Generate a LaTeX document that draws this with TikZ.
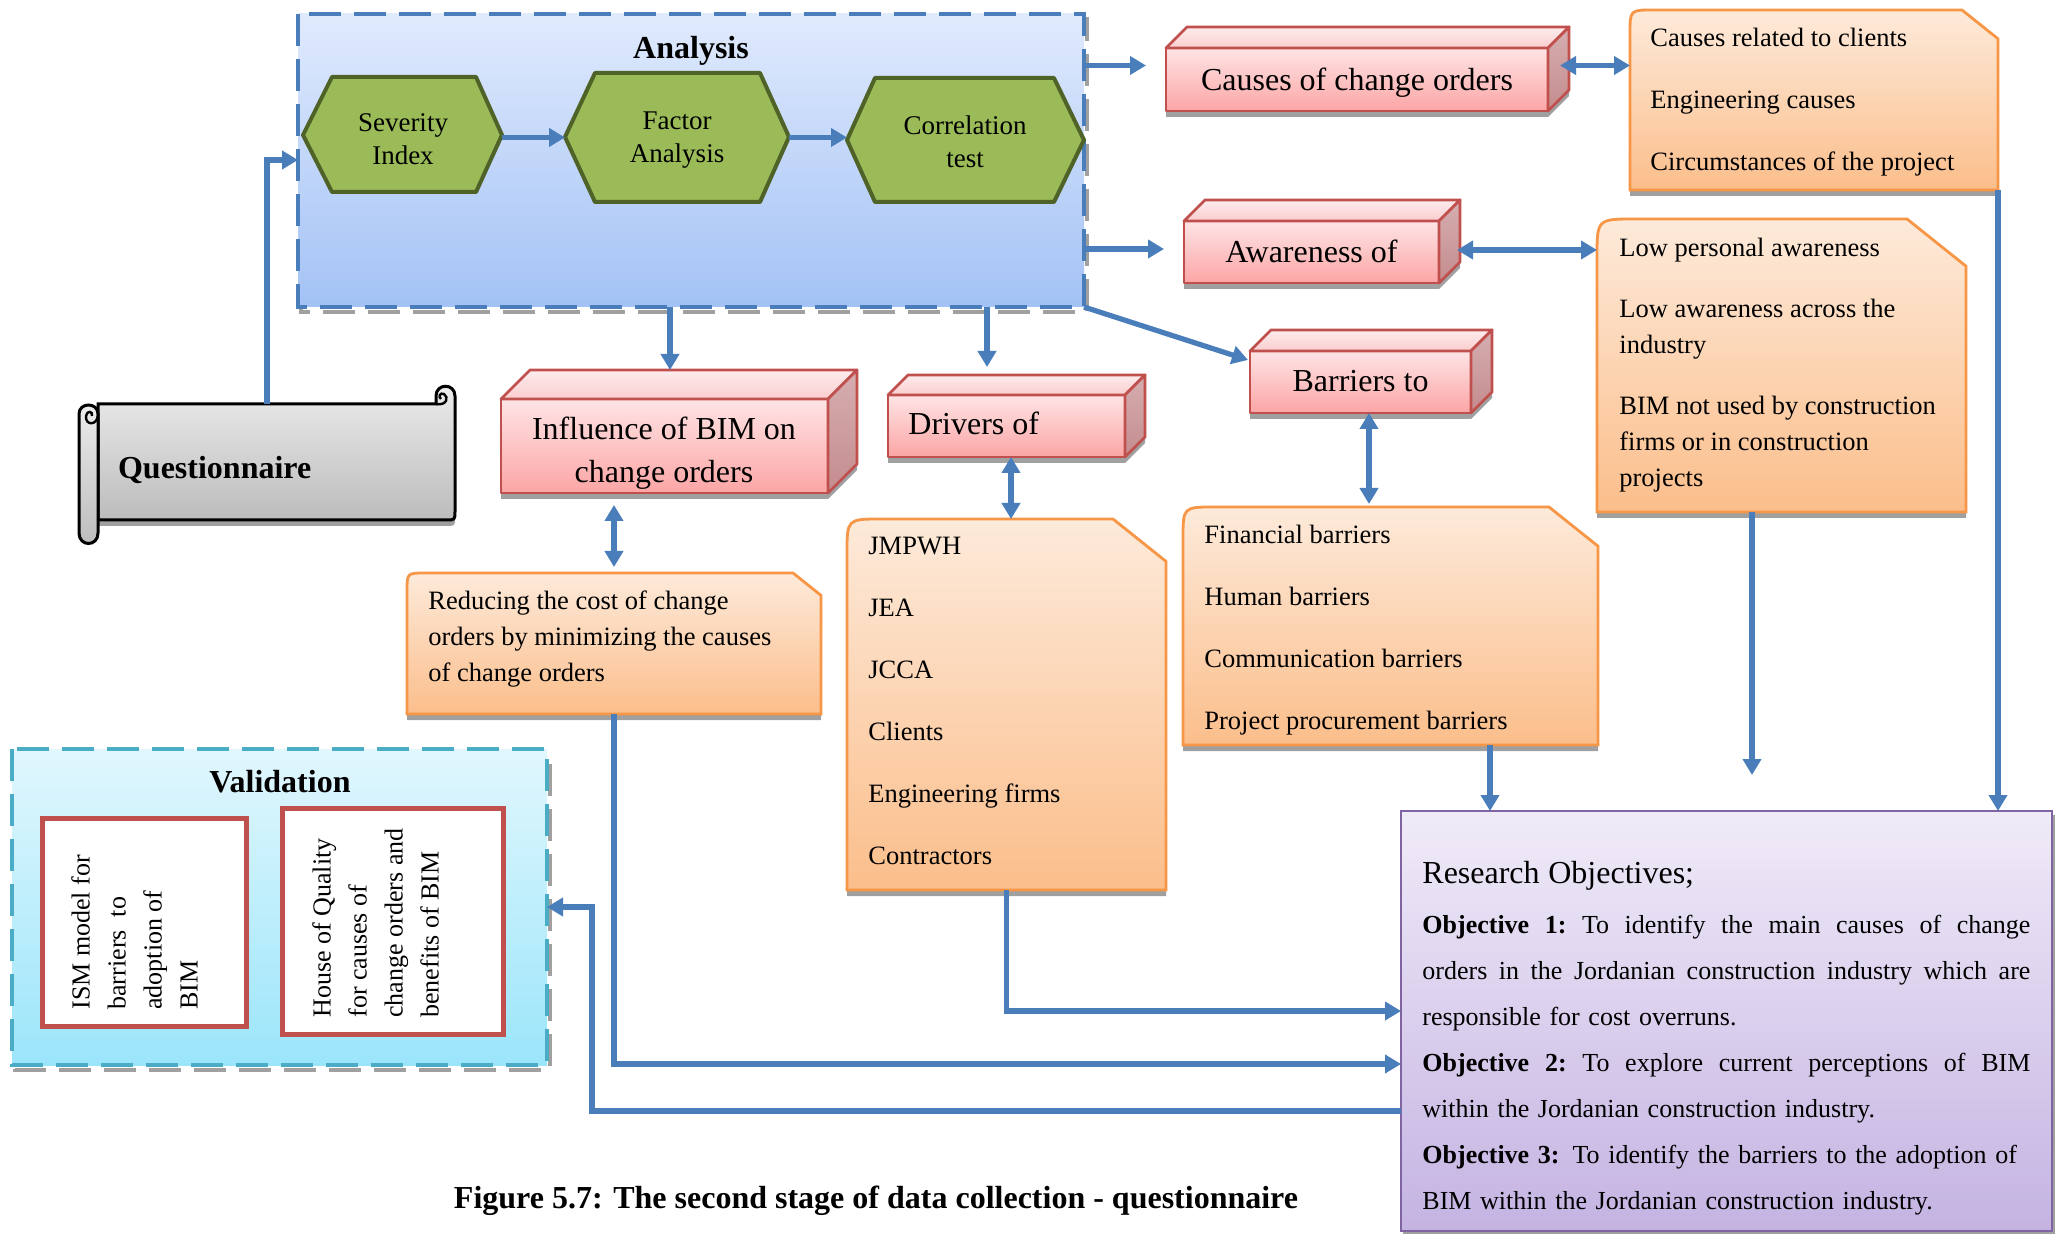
\documentclass[tikz,border=0pt]{standalone}
\usepackage{fontspec}
\setmainfont{Liberation Serif}
\usetikzlibrary{arrows.meta,calc,fit}

\definecolor{arrowblue}{RGB}{74,126,187}
\definecolor{anaA}{RGB}{224,234,253}
\definecolor{anaB}{RGB}{163,194,245}
\definecolor{valA}{RGB}{225,247,253}
\definecolor{valB}{RGB}{155,229,250}
\definecolor{valline}{RGB}{75,172,198}
\definecolor{orA}{RGB}{253,234,218}
\definecolor{orB}{RGB}{251,190,139}
\definecolor{orline}{RGB}{247,150,70}
\definecolor{pkA}{RGB}{254,228,229}
\definecolor{pkB}{RGB}{252,165,165}
\definecolor{pktA}{RGB}{254,236,237}
\definecolor{pktB}{RGB}{250,205,206}
\definecolor{sdA}{RGB}{214,174,176}
\definecolor{sdB}{RGB}{196,140,142}
\definecolor{redline}{RGB}{192,80,77}
\definecolor{hexfill}{RGB}{155,187,89}
\definecolor{hexline}{RGB}{79,98,40}
\definecolor{roA}{RGB}{240,235,248}
\definecolor{roB}{RGB}{196,179,226}
\definecolor{roline}{RGB}{128,100,162}
\definecolor{shadowgray}{RGB}{160,160,160}
\definecolor{qA}{RGB}{236,236,236}
\definecolor{qB}{RGB}{188,188,188}

\newcommand\fslabel{\fontsize{16}{21.5}\selectfont}
\newcommand\fshead{\fontsize{16}{20}\selectfont\bfseries}
\newcommand\fslist{\fontsize{13.25}{18}\selectfont}
\newcommand\fshex{\fontsize{13.5}{16.75}\selectfont}
\newcommand\fsrot{\fontsize{13}{18}\selectfont}
\newcommand\fsobj{\fontsize{13}{23}\selectfont}
\newcommand\fstitle{\fontsize{16}{20}\selectfont}

% one line of the objectives text, spread to the full width
\newcommand\jline[1]{\hbox to 304pt{\spaceskip=3.25pt plus 10pt minus 1pt\xspaceskip=\spaceskip #1}}
% one line of the objectives text, set flush left
\newcommand\rline[1]{\hbox to 304pt{#1\hfil}}

% 3-D block: name, x1, y1, x2, y2 (front face), depth
\newcommand\drawcube[6]{%
  \fill[shadowgray] (#2,#3+6) -- (#2+#6,#3-#6+6) -- (#4+#6,#3-#6+6) -- (#4+#6,#5-#6+6) -- (#4,#5+6) -- (#2,#5+6) -- cycle;
  \shadedraw[cubeline, top color=pkA, bottom color=pkB] (#2,#3) rectangle (#4,#5);
  \shadedraw[cubeline, top color=pktA, bottom color=pktB] (#2,#3) -- (#2+#6,#3-#6) -- (#4+#6,#3-#6) -- (#4,#3) -- cycle;
  \shadedraw[cubeline, top color=sdA, bottom color=sdB] (#4,#3) -- (#4+#6,#3-#6) -- (#4+#6,#5-#6) -- (#4,#5) -- cycle;
  \node[fit={(#2,#3-#6) (#4+#6,#5)}, inner sep=0pt, outer sep=0pt] (#1) {};
  \node[fit={(#2,#3) (#4,#5)}, inner sep=0pt, outer sep=0pt] (#1-f) {};
}

% note box with a snipped top-right corner: name, x1, y1, x2, y2, snip
\newcommand\drawnote[6]{%
  \fill[shadowgray] (#2,#5+6) -- (#2,#3+6+0.65*#6) .. controls (#2,#3+6) .. (#2+0.65*#6,#3+6) -- (#4-#6,#3+6) -- (#4,#3+6+0.8*#6) -- (#4,#5+6) -- cycle;
  \shadedraw[notebox] (#2,#5) -- (#2,#3+0.65*#6) .. controls (#2,#3) .. (#2+0.65*#6,#3) -- (#4-#6,#3) -- (#4,#3+0.8*#6) -- (#4,#5) -- cycle;
  \node[fit={(#2,#3) (#4,#5)}, inner sep=0pt, outer sep=0pt] (#1) {};
}

% hexagon: name, x1, xa, xb, x2, ytop, ymid, ybot
\newcommand\drawhex[8]{%
  \filldraw[hexbox] (#2,#7) -- (#3,#6) -- (#4,#6) -- (#5,#7) -- (#4,#8) -- (#3,#8) -- cycle;
  \node[fit={(#2,#6) (#5,#8)}, inner sep=0pt, outer sep=0pt] (#1) {};
}

\begin{document}
\begin{tikzpicture}[x=0.5pt, y=-0.5pt,
  arr/.style={draw=arrowblue, line width=2.6pt, -{Triangle[length=8pt,width=9pt]}},
  darr/.style={draw=arrowblue, line width=2.6pt, {Triangle[length=8pt,width=9pt]}-{Triangle[length=8pt,width=9pt]}},
  cubeline/.style={draw=redline, line width=1.4pt, line join=round},
  notebox/.style={draw=orline, line width=1.4pt, top color=orA, bottom color=orB},
  hexbox/.style={fill=hexfill, draw=hexline, line width=2pt, line join=round},
  dashbox/.style={line width=2pt, dash pattern=on 16pt off 6.5pt},
  listtext/.style={anchor=north west, inner sep=0pt, align=left, font=\fslist},
  hextext/.style={align=center, font=\fshex, inner sep=0pt},
  rottext/.style={anchor=north west, inner sep=0pt, align=left, font=\fsrot, rotate=90},
  modelbox/.style={draw=redline, line width=2.5pt, fill=white}
]
\useasboundingbox (0,0) rectangle (2060,1234);
\fill[white] (0,0) rectangle (2060,1234);

% ---------- Analysis panel ----------
\draw[shadowgray, dashbox] (301,19) rectangle (1087,312);
\shade[top color=anaA, bottom color=anaB] (298,14) rectangle (1084,307);
\draw[arrowblue, dashbox] (298,14) rectangle (1084,307);
\node[fit={(298,14) (1084,307)}, inner sep=0pt, outer sep=0pt] (analysis) {};
\node[font=\fshead] (anatitle) at (691,51) {Analysis};

\drawhex{sev}{303}{332}{476}{502}{77}{135}{192}
\drawhex{fac}{565}{595}{760}{789}{73}{137}{202}
\drawhex{cor}{847}{875}{1054}{1084}{78}{140}{202}
\node[hextext] (sev-t) at (403,139) {Severity\\Index};
\node[hextext] (fac-t) at (677,140) {Factor\\Analysis};
\node[hextext] (cor-t) at (965,142) {Correlation\\test};

% ---------- Questionnaire scroll ----------
\fill[shadowgray] (98,410) -- (455,410) -- (455,517) .. controls (455,526) .. (446,526) -- (98,526) -- cycle;
\shadedraw[draw=black, line width=1.5pt, top color=qA, bottom color=qB]
  (98,404) -- (436,404) -- (436,396) .. controls (436,383) and (455,383) .. (455,396)
  -- (455,511) .. controls (455,520) .. (446,520) -- (98,520) -- cycle;
\draw[line width=1.2pt] (436,404) .. controls (447,406) and (449,397) .. (444,394) .. controls (440,392) and (438,397) .. (441,399);
\shadedraw[draw=black, line width=1.5pt, top color=qA, bottom color=qB]
  (79,414) .. controls (79,402) and (98,402) .. (98,414) -- (98,533)
  .. controls (98,547) and (79,547) .. (79,533) -- cycle;
\draw[line width=1.2pt] (98,414) .. controls (98,426) and (85,426) .. (86,416) .. controls (87,410) and (93,411) .. (92,416);
\node[fit={(98,404) (455,520)}, inner sep=0pt, outer sep=0pt] (quest) {};
\node[font=\fshead, anchor=west] (quest-t) at (111,470) {Questionnaire};

% ---------- 3-D blocks ----------
\drawcube{causes}{1166}{48}{1548}{111}{21}
\drawcube{aware}{1184}{221}{1439}{283}{21}
\drawcube{barriers}{1250}{351}{1471}{413}{21}
\drawcube{drivers}{888}{395}{1125}{457}{20}
\drawcube{inf}{501}{399}{828}{493}{29}
\node[font=\fslabel] (causes-t) at ($(causes-f)+(0,3)$) {Causes of change orders};
\node[font=\fslabel] (aware-t) at ($(aware-f)+(0,-1)$) {Awareness of};
\node[font=\fslabel] (barriers-t) at ($(barriers-f)+(0,-1)$) {Barriers to};
\node[font=\fslabel, anchor=west, inner sep=0pt] (drivers-t) at ($(drivers-f.west)+(20,-3)$) {Drivers of};
\node[font=\fslabel, align=center, inner sep=0pt] (inf-t) at (664,453) {Influence of BIM on\\change orders};

% ---------- note boxes ----------
\drawnote{clist}{1630}{10}{1998}{190}{36}
\drawnote{alist}{1597}{219}{1966}{512}{59}
\drawnote{blist}{1183}{507}{1598}{745}{49}
\drawnote{dlist}{847}{519}{1166}{890}{53}
\drawnote{reduc}{407}{573}{821}{714}{28}

\node[listtext] (clist-t) at (1650,28) {Causes related to clients\\[13pt]Engineering causes\\[13pt]Circumstances of the project};
\node[listtext] (alist-t) at (1619,238) {Low personal awareness\\[12.5pt]Low awareness across the\\industry\\[12.5pt]BIM not used by construction\\firms or in construction\\projects};
\node[listtext] (blist-t) at (1204,525) {Financial barriers\\[13pt]Human barriers\\[13pt]Communication barriers\\[13pt]Project procurement barriers};
\node[listtext] (dlist-t) at (868,537) {JMPWH\\[13pt]JEA\\[13pt]JCCA\\[13pt]Clients\\[13pt]Engineering firms\\[13pt]Contractors};
\node[listtext] (reduc-t) at (428,590) {Reducing the cost of change\\orders by minimizing the causes\\of change orders};

% ---------- Validation panel ----------
\draw[shadowgray, dashbox] (15,754) rectangle (550,1070);
\shade[top color=valA, bottom color=valB] (12,749) rectangle (547,1065);
\draw[valline, dashbox] (12,749) rectangle (547,1065);
\node[fit={(12,749) (547,1065)}, inner sep=0pt, outer sep=0pt] (valid) {};
\node[font=\fshead] (valid-t) at (280,782) {Validation};
\draw[modelbox] (42,818) rectangle (246,1026);
\node[fit={(42,818) (246,1026)}, inner sep=0pt, outer sep=0pt] (ism) {};
\draw[modelbox] (282,808) rectangle (503,1034);
\node[fit={(282,808) (503,1034)}, inner sep=0pt, outer sep=0pt] (hoq) {};
\node[rottext] (ism-t) at (71,1010) {ISM model for\\barriers~~to\\adoption of\\BIM};
\node[rottext] (hoq-t) at (312,1018) {House of Quality\\for causes of\\change orders and\\benefits of BIM};

% ---------- Research objectives ----------
\fill[shadowgray] (1403,815) rectangle (2055,1236);
\shadedraw[draw=roline, line width=1.4pt, top color=roA, bottom color=roB] (1401,811) rectangle (2052,1231);
\node[fit={(1401,811) (2052,1231)}, inner sep=0pt, outer sep=0pt] (ro) {};
\node[anchor=north west, inner sep=0pt, text width=304pt, font=\fsobj] (ro-t) at (1422,861) {%
  \rline{\fstitle Research Objectives;}
  \vskip 2pt
  \jline{\textbf{Objective 1:} To identify the main causes of change}
  \jline{orders in the Jordanian construction industry which are}
  \rline{responsible for cost overruns.}
  \jline{\textbf{Objective 2:} To explore current perceptions of BIM}
  \rline{within the Jordanian construction industry.}
  \rline{\textbf{Objective 3:} To identify the barriers to the adoption of}
  \rline{BIM within the Jordanian construction industry.}};

% ---------- caption ----------
\node[font=\fshead] (caption) at (876,1201) {Figure 5.7: The second stage of data collection - questionnaire};

% ---------- connectors ----------
\coordinate (qa) at (267,160);
\draw[arr] ($(quest.north)+(-9.5,0)$) -- (qa) -- (qa -| analysis.west);
\draw[arr] (sev.east |- fac.west) -- (fac.west);
\draw[arr] (fac.east) -- (fac.east -| cor.west);

\coordinate (ce) at ($(causes-f.west)+(0,-14)$);
\draw[arr, shorten >=10pt] (ce -| analysis.east) -- (ce);
\coordinate (ae) at ($(aware-f.west)+(0,-3)$);
\draw[arr, shorten >=10pt] (ae -| analysis.east) -- (ae);
\draw[arr] (analysis.south east) -- ($(barriers-f.north west)+(-2,9)$);
\coordinate (k1) at (670,0);
\draw[arr] (analysis.south -| k1) -- (inf.north -| k1);
\coordinate (k2) at (987,0);
\draw[arr, shorten >=4pt] (analysis.south -| k2) -- (drivers.north -| k2);

\coordinate (cs) at ($(causes-f.east)+(12,-14)$);
\draw[darr] (cs) -- (cs -| clist.west);
\coordinate (as) at ($(aware-f.east)+(18,-2)$);
\draw[darr] (as) -- (as -| alist.west);
\coordinate (k3) at (614,0);
\draw[darr, shorten <=6pt, shorten >=3pt] (inf.south -| k3) -- (reduc.north -| k3);
\coordinate (k4) at (1011,0);
\draw[darr] (drivers.south -| k4) -- (dlist.north -| k4);
\coordinate (k5) at (1369,0);
\draw[darr, shorten >=1.5pt] (barriers.south -| k5) -- (blist.north -| k5);

\coordinate (k6) at (1490,0);
\draw[arr] (blist.south -| k6) -- (ro.north -| k6);
\coordinate (aend) at (1752,775);
\draw[arr] (alist.south -| aend) -- (aend);
\draw[arr] (clist.south east) -- (ro.north -| clist.south east);
\coordinate (k7) at (0,1011);
\draw[arr] (dlist.south) |- (ro.west |- k7);
\coordinate (k8) at (0,1064);
\draw[arr] (reduc.south) |- (ro.west |- k8);
\coordinate (k9) at (592,1111);
\coordinate (k10) at (0,907);
\draw[arr] (ro.west |- k9) -- (k9) |- (valid.east |- k10);
\end{tikzpicture}
\end{document}
